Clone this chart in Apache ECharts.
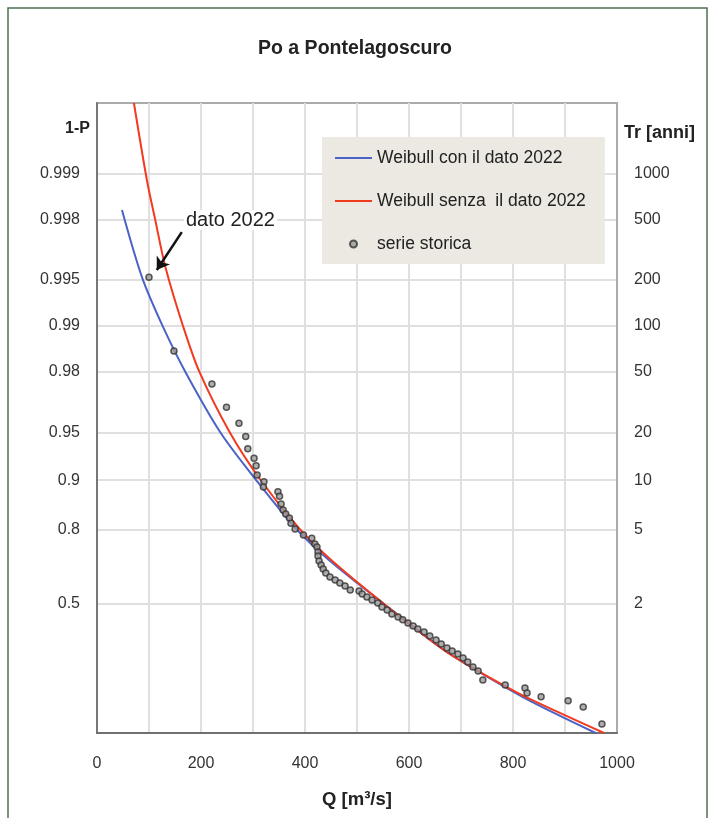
<!DOCTYPE html>
<html><head><meta charset="utf-8">
<script src="https://cdn.jsdelivr.net/npm/echarts@6/dist/echarts.min.js"></script>
<style>html,body{margin:0;padding:0;background:#fff}#c{width:715px;height:818px}</style>
</head><body><div id="c"></div>
<script>
// ---- data ----
const probTicks = [0.999, 0.998, 0.995, 0.99, 0.98, 0.95, 0.9, 0.8, 0.5];
const probLabels = ['0.999', '0.998', '0.995', '0.99', '0.98', '0.95', '0.9', '0.8', '0.5'];
const trLabels = ['1000', '500', '200', '100', '50', '20', '10', '5', '2'];
const probRange = [0.0072, 0.99966];
const qTicks = [0, 200, 400, 600, 800, 1000];
const seriesNames = ['Weibull con il dato 2022', 'Weibull senza  il dato 2022', 'serie storica'];

const blueQ = [48, 87, 127, 170, 238, 307.5, 381.5, 446, 552, 667, 731.5, 829, 959];
const blueP = [0.99827, 0.99515, 0.9898, 0.97987, 0.94984, 0.8987, 0.804, 0.7014, 0.5001, 0.2479, 0.1468, 0.0507, 0.0072];

const redQ = [71, 96, 112, 131.5, 166, 197, 256, 316, 388, 446, 552, 667, 729, 777, 828, 975];
const redP = [0.99966, 0.9989, 0.99799, 0.99589, 0.9898, 0.97987, 0.94984, 0.8987, 0.804, 0.7087, 0.5001, 0.2479, 0.1512, 0.0966, 0.0554, 0.0072];

const histQ = [100, 148, 221, 249, 273, 286, 290, 302, 306, 308, 321, 320, 348, 351, 354, 358, 363, 370, 373, 381, 397, 413,
  419, 423, 425, 425, 427, 431, 435, 440, 448, 458, 467, 477, 487,
  504, 510, 519, 529, 540, 548, 558, 567, 579, 588, 598, 608, 617, 629, 640, 652, 662, 673, 683, 694, 704, 713, 723, 733,
  742, 785, 823, 827, 854, 906, 935, 971];
const histP = [0.9952, 0.9853, 0.9759, 0.9658, 0.9566, 0.9471, 0.9368, 0.9272, 0.9188, 0.9072, 0.8977, 0.8897, 0.8818, 0.8738, 0.8594, 0.847, 0.8383, 0.8289, 0.8162, 0.8013, 0.7845, 0.7752,
  0.7572, 0.7473, 0.7303, 0.716, 0.6974, 0.682, 0.6658, 0.649, 0.6316, 0.6181, 0.6045, 0.5904, 0.5712,
  0.5663, 0.5515, 0.5366, 0.5211, 0.5053, 0.4843, 0.4681, 0.4466, 0.43, 0.4136, 0.3967, 0.3798, 0.363, 0.3461, 0.3238, 0.3019, 0.2801, 0.2585, 0.2427, 0.2274, 0.2072, 0.1877, 0.1644, 0.1468,
  0.1108, 0.0931, 0.0833, 0.0685, 0.058, 0.0485, 0.0363, 0.0136];

// annotation arrow (tail -> tip) in data units
const arrowQ = [163, 115];
const arrowP = [0.99758, 0.9957];

// ---- chart ----
const G = p => -Math.log(-Math.log(p));   // Gumbel probability paper
const FONT = '"Liberation Sans", Arial, sans-serif';
const tickVals = probTicks.map(G);
function lookup(v, labels) {
  let best = 0, d = Infinity;
  tickVals.forEach((t, i) => { const dd = Math.abs(t - v); if (dd < d) { d = dd; best = i; } });
  return d < 1e-6 ? labels[best] : '';
}
const zip = (a, b) => a.map((q, i) => [q, G(b[i])]);
const LINE_ICON = 'path://M0,0H40V2H0Z';

const chart = echarts.init(document.getElementById('c'), null, { renderer: 'canvas' });
chart.setOption({
  animation: false,
  backgroundColor: '#fff',
  textStyle: { fontFamily: FONT },
  grid: { left: 97, right: 98, top: 103, bottom: 85, show: true, borderColor: '#ababab', borderWidth: 2, backgroundColor: '#fff' },
  legend: {
    orient: 'vertical', left: 322, top: 137,
    backgroundColor: '#EBE9E1', padding: [12, 19, 11, 13],
    itemGap: 25, itemWidth: 37, itemHeight: 7, selectedMode: false,
    textStyle: { fontSize: 17.5, color: '#222', lineHeight: 18, fontFamily: FONT },
    data: [
      { name: seriesNames[0], icon: LINE_ICON },
      { name: seriesNames[1], icon: LINE_ICON },
      { name: seriesNames[2], icon: 'circle' }
    ]
  },
  xAxis: {
    type: 'value', min: 0, max: 1000, interval: 100,
    axisLine: { show: true, onZero: false, lineStyle: { color: '#707070', width: 2 } },
    axisTick: { show: false },
    axisLabel: { margin: 23, fontSize: 16, color: '#333', fontFamily: FONT, formatter: v => qTicks.includes(v) ? String(v) : '' },
    splitLine: { show: true, lineStyle: { color: '#e0e0e0', width: 2 } },
    name: 'Q [m³/s]', nameLocation: 'middle', nameGap: 57,
    nameTextStyle: { fontSize: 18.5, fontWeight: 'bold', color: '#222', fontFamily: FONT }
  },
  yAxis: [{
    type: 'value', min: G(probRange[0]), max: G(probRange[1]),
    axisLine: { show: true, onZero: false, lineStyle: { color: '#777', width: 2 } },
    axisTick: { show: false, customValues: tickVals },
    axisLabel: { customValues: tickVals, margin: 17, fontSize: 16, color: '#333', fontFamily: FONT, formatter: v => lookup(v, probLabels) },
    splitLine: { show: true, lineStyle: { color: '#e0e0e0', width: 2 } }
  }, {
    type: 'value', position: 'right', min: G(probRange[0]), max: G(probRange[1]),
    axisLine: { show: true, onZero: false, lineStyle: { color: '#ababab', width: 2 } },
    axisTick: { show: false, customValues: tickVals },
    axisLabel: { customValues: tickVals, margin: 17, fontSize: 16, color: '#333', fontFamily: FONT, formatter: v => lookup(v, trLabels) },
    splitLine: { show: false }
  }],
  series: [{
    name: seriesNames[0], type: 'line', smooth: 0.3, symbol: 'none', clip: true,
    lineStyle: { color: '#4B63C6', width: 2 }, itemStyle: { color: '#4B63C6' },
    data: zip(blueQ, blueP), z: 3
  }, {
    name: seriesNames[1], type: 'line', smooth: 0.3, symbol: 'none', clip: true,
    lineStyle: { color: '#F23A1F', width: 2 }, itemStyle: { color: '#F23A1F' },
    data: zip(redQ, redP), z: 4
  }, {
    name: seriesNames[2], type: 'scatter', symbol: 'circle', symbolSize: 6,
    itemStyle: { color: '#9a9a9a', borderColor: '#333', borderWidth: 1.5 },
    data: zip(histQ, histP), z: 5,
    markLine: {
      silent: true, symbol: ['none', 'arrow'], symbolSize: 12,
      lineStyle: { color: '#111', width: 2.5, type: 'solid' },
      label: { show: false },
      data: [[{ coord: [arrowQ[0], G(arrowP[0])] }, { coord: [arrowQ[1], G(arrowP[1])] }]]
    }
  }],
  graphic: [
    { type: 'rect', shape: { x: 8, y: 8, width: 699, height: 830 }, style: { fill: 'none', stroke: '#4f704f', lineWidth: 1.5 }, silent: true },
    { type: 'text', x: 355, y: 49, style: { text: 'Po a Pontelagoscuro', font: 'bold 19.5px ' + FONT, fill: '#222', textAlign: 'center', textVerticalAlign: 'middle' } },
    { type: 'text', x: 90, y: 129, style: { text: '1-P', font: 'bold 16px ' + FONT, fill: '#222', textAlign: 'right', textVerticalAlign: 'middle' } },
    { type: 'text', x: 624, y: 133, style: { text: 'Tr [anni]', font: 'bold 18px ' + FONT, fill: '#222', textAlign: 'left', textVerticalAlign: 'middle' } },
    { type: 'text', x: 184, y: 220, z: 10, style: { text: 'dato 2022', font: '20px ' + FONT, fill: '#222', textAlign: 'left', textVerticalAlign: 'middle', backgroundColor: '#fff', padding: [0, 2] } }
  ]
});
</script></body></html>
